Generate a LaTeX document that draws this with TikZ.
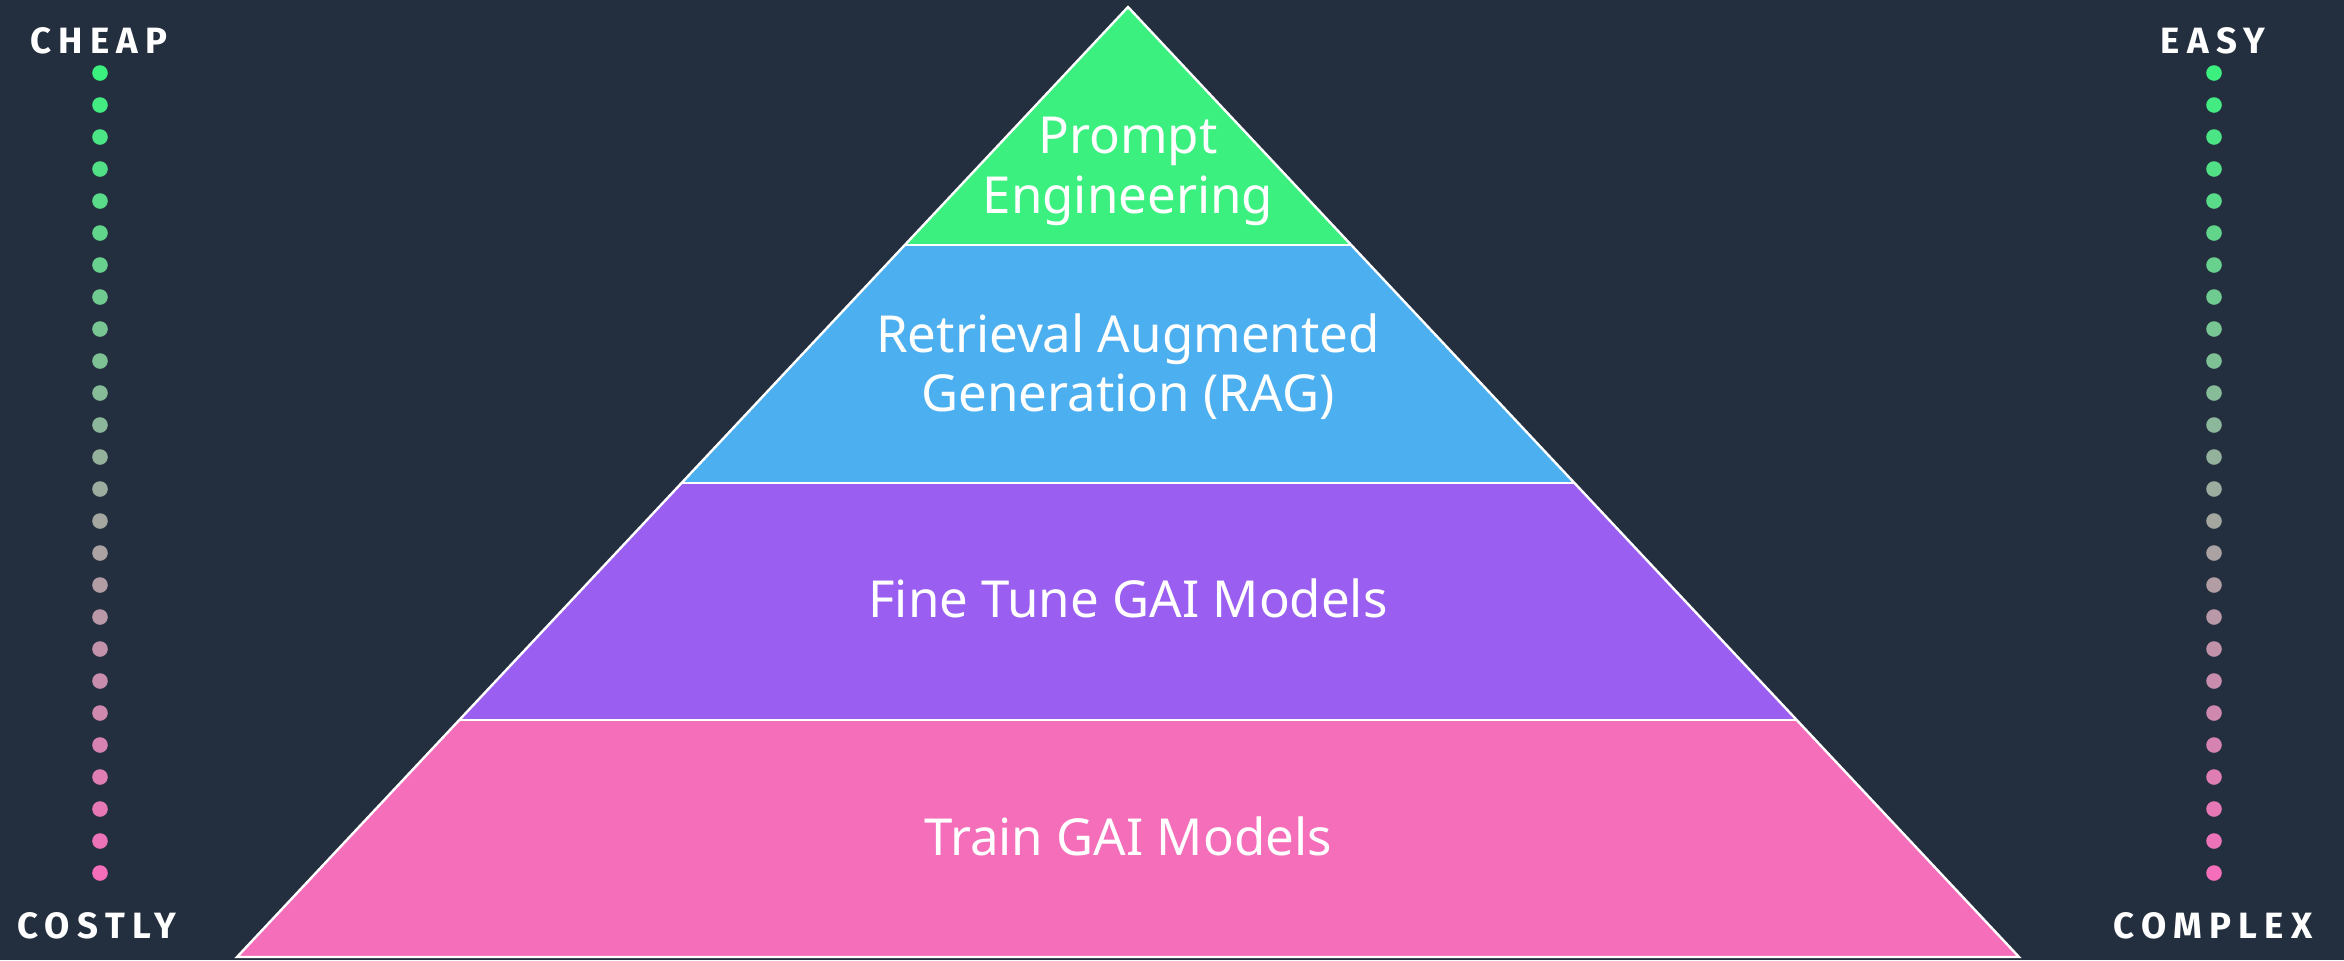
\documentclass[tikz,border=0pt]{standalone}
\usepackage{fontspec}
\setmainfont{Noto Sans}
\newfontfamily\capsfont[LetterSpace=20]{Fira Sans}
\definecolor{bgc}{HTML}{232F3E}
\definecolor{greenc}{HTML}{3CF080}
\definecolor{bluec}{HTML}{4BAFF0}
\definecolor{purplec}{HTML}{9A5EF0}
\definecolor{pinkc}{HTML}{F46EBA}
\tikzset{
  edge/.style={draw=white, line width=1.2pt, line join=miter},
  maintext/.style={text=white, font=\fontsize{25.5}{30}\selectfont, anchor=base, inner sep=0pt},
  sidetext/.style={text=white, font=\capsfont\bfseries\fontsize{18.3}{20}\selectfont, anchor=base, inner sep=0pt},
}
\begin{document}
\begin{tikzpicture}[x=0.5pt,y=-0.5pt]
\fill[bgc] (0,0) rectangle (2344,960);
\useasboundingbox (0,0) rectangle (2344,960);
\coordinate (A) at (1128,7);
\coordinate (L1) at (905,245);  \coordinate (R1) at (1351,245);
\coordinate (L2) at (682,483);  \coordinate (R2) at (1574,483);
\coordinate (L3) at (459,720);  \coordinate (R3) at (1797,720);
\coordinate (L4) at (237,957);  \coordinate (R4) at (2019,957);
\fill[greenc] (A) -- (L1) -- (R1) -- cycle;
\fill[bluec] (L1) -- (L2) -- (R2) -- (R1) -- cycle;
\fill[purplec] (L2) -- (L3) -- (R3) -- (R2) -- cycle;
\fill[pinkc] (L3) -- (L4) -- (R4) -- (R3) -- cycle;
\draw[edge] (A) -- (L4) -- (R4) -- cycle;
\draw[edge] (L1) -- (R1);
\draw[edge] (L2) -- (R2);
\draw[edge] (L3) -- (R3);
% texts
\node[maintext] (pe1) at (1128,153) {Prompt};
\node[maintext] (pe2) at (1128,213) {Engineering};
\node[maintext] (rag1) at (1128,352) {Retrieval Augmented};
\node[maintext] (rag2) at (1128,411) {Generation (RAG)};
\node[maintext] (ft) at (1128,617) {Fine Tune GAI Models};
\node[maintext] (tr) at (1128,855) {Train GAI Models};
% side labels
\node[sidetext] (cheap) at (99,53) {CHEAP};
\node[sidetext] (costly) at (97,938) {COSTLY};
\node[sidetext] (easy) at (2213,53) {EASY};
\node[sidetext] (complex) at (2213,938) {COMPLEX};
% dots
\foreach \i in {0,...,25}{
  \pgfmathtruncatemacro\p{4*\i}
  \colorlet{dotc}{pinkc!\p!greenc}
  \fill[dotc] (100,73+32*\i) circle[radius=3.9pt];
  \fill[dotc] (2214,73+32*\i) circle[radius=3.9pt];
}
\end{tikzpicture}
\end{document}
